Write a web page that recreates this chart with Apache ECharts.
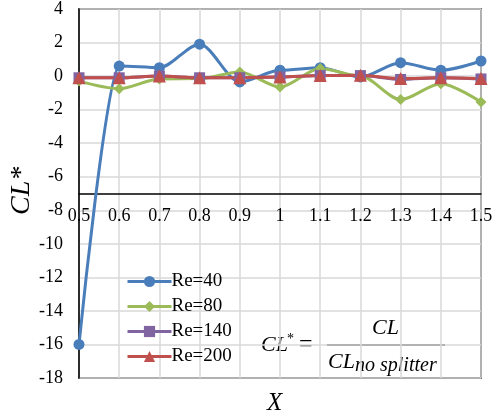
<!DOCTYPE html>
<html>
<head>
<meta charset="utf-8">
<script src="https://cdn.jsdelivr.net/npm/echarts@6/dist/echarts.min.js"></script>
<style>html,body{margin:0;padding:0;background:#fff;}#c{width:499px;height:418px;}</style>
</head>
<body>
<div id="c"></div>
<script>
var xValues = [0.5, 0.6, 0.7, 0.8, 0.9, 1.0, 1.1, 1.2, 1.3, 1.4, 1.5];
var re40  = [-16.0, 0.6, 0.5, 1.9, -0.35, 0.35, 0.5, -0.05, 0.8, 0.35, 0.9];
var re80  = [-0.3, -0.75, -0.17, -0.15, 0.25, -0.65, 0.45, 0.0, -1.4, -0.45, -1.55];
var re140 = [-0.1, -0.1, 0.0, -0.1, -0.1, -0.05, 0.03, 0.03, -0.2, -0.1, -0.17];
var re200 = [-0.1, -0.1, 0.0, -0.1, -0.1, -0.05, 0.03, 0.05, -0.15, -0.1, -0.15];
var seriesNames = ['Re=40', 'Re=80', 'Re=140', 'Re=200'];
var yMin = -18, yMax = 4, yStep = 2, xCross = -7;

function pairs(arr){ return xValues.map(function(x,i){ return [x, arr[i]]; }); }

var chart = echarts.init(document.getElementById('c'), null, {renderer:'canvas'});
var serif = '"Liberation Serif", "Times New Roman", serif';
var gridTop = 9, gridBottom = 40, plotH = 418 - gridTop - gridBottom;
var axisOffset = -plotH * (xCross - yMin) / (yMax - yMin);

function mk(name, data, color, symbol, size){
  return {
    name: name, type: 'line', data: pairs(data), smooth: 0.3, smoothMonotone: 'x',
    symbol: symbol, symbolSize: size,
    lineStyle: {color: color, width: 3},
    itemStyle: {color: color},
    emphasis: {disabled: true}
  };
}

chart.setOption({
  animation: false,
  backgroundColor: '#fff',
  grid: {left: 79, right: 18, top: gridTop, bottom: gridBottom, show: true, borderColor: '#000', borderWidth: 1.5, backgroundColor: 'transparent'},
  xAxis: {
    type: 'value', min: 0.5, max: 1.5, interval: 0.1,
    position: 'bottom', offset: axisOffset,
    axisLine: {show: true, onZero: false, lineStyle: {color: '#000', width: 1.5}},
    axisTick: {show: false},
    axisLabel: {color: '#000', fontFamily: serif, fontSize: 18, margin: 14,
      formatter: function(v){ return String(Math.round(v*10)/10); }},
    splitLine: {show: true, lineStyle: {color: '#d9d9d9', width: 1.5}}
  },
  yAxis: {
    type: 'value', min: yMin, max: yMax, interval: yStep,
    axisLine: {show: true, lineStyle: {color: '#000', width: 1.5}},
    axisTick: {show: false},
    axisLabel: {color: '#000', fontFamily: serif, fontSize: 18, margin: 16},
    splitLine: {show: true, lineStyle: {color: '#d9d9d9', width: 1.5}}
  },
  legend: {
    orient: 'vertical', left: 121, top: 267,
    itemWidth: 44, itemHeight: 14, itemGap: 6,
    lineStyle: {width: 3},
    textStyle: {fontFamily: serif, fontSize: 19, color: '#000', padding: [0,0,0,-5]},
    data: seriesNames
  },
  series: [
    mk(seriesNames[0], re40, '#4A7EBB', 'circle', 11),
    mk(seriesNames[1], re80, '#9BBB59', 'diamond', 11),
    mk(seriesNames[2], re140, '#8064A2', 'rect', 11),
    mk(seriesNames[3], re200, '#C0504D', 'triangle', 13)
  ],
  graphic: [
    {type: 'text', x: 8, y: 215, rotation: Math.PI/2, style: {text: 'CL*', font: 'italic 28px ' + serif, fill: '#000'}},
    {type: 'text', x: 267, y: 391, style: {text: 'X', font: 'italic 25px ' + serif, fill: '#000'}},
    {type: 'text', x: 261, y: 334, style: {text: 'CL', font: 'italic 22px ' + serif, fill: '#000'}},
    {type: 'text', x: 287, y: 332, style: {text: '*', font: '14px ' + serif, fill: '#000'}},
    {type: 'text', x: 299, y: 333, style: {text: '=', font: '24px ' + serif, fill: '#000'}},
    {type: 'line', shape: {x1: 327, y1: 345, x2: 445, y2: 345}, style: {stroke: '#000', lineWidth: 1.5}},
    {type: 'text', x: 372, y: 317, style: {text: 'CL', font: 'italic 22px ' + serif, fill: '#000'}},
    {type: 'text', x: 328, y: 351, style: {text: 'CL', font: 'italic 22px ' + serif, fill: '#000'}},
    {type: 'text', x: 355, y: 356, style: {text: 'no splitter', font: 'italic 20px ' + serif, fill: '#000'}}
  ]
});
</script>
</body>
</html>
